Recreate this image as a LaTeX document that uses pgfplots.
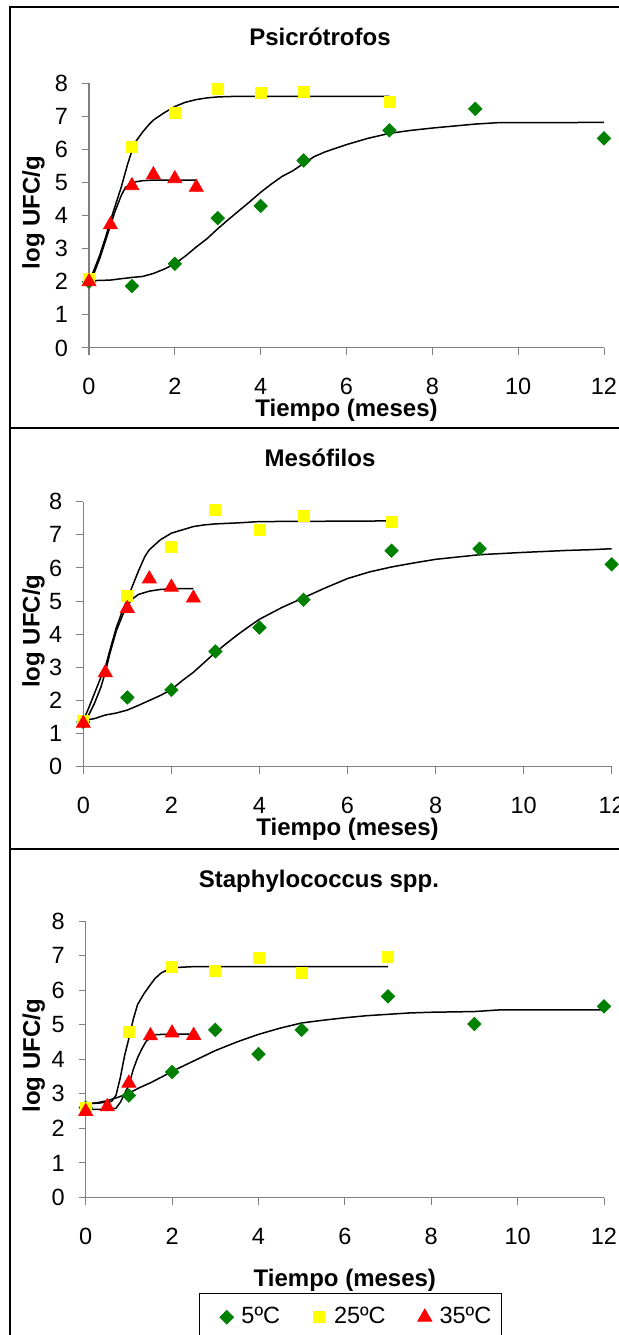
\documentclass[border=0pt]{standalone}
\usepackage{fontspec}
\setmainfont{Liberation Sans}
\usepackage{pgfplots}
\pgfplotsset{compat=1.18}
\definecolor{mgreen}{HTML}{008000}
\definecolor{myellow}{HTML}{FFFF00}
\definecolor{mred}{HTML}{FF0000}
\definecolor{axgray}{HTML}{808080}
\pgfplotsset{
  panel/.style={
    scale only axis, xmin=0, xmax=12, ymin=0, ymax=8,
    axis lines=left, axis line style={draw=axgray, line width=0.5pt, -},
    xtick={0,2,...,12}, ytick={0,...,8},
    tick align=outside, major tick length=3.5pt,
    tick style={draw=axgray, line width=0.5pt},
    /pgf/number format/assume math mode=true,
    tick label style={font=\fontsize{11.75}{13}\selectfont, inner sep=0pt, text=black},
    yticklabel style={anchor=east},
    yticklabel={\pgfmathprintnumber{\tick}\kern6.85pt},
    xticklabel style={anchor=north},
    xticklabel shift=11.5pt,
    label style={font=\fontsize{12}{14}\selectfont\bfseries},
    every axis title/.style={font=\fontsize{12}{14}\selectfont\bfseries, anchor=center},
    ylabel={log UFC/g}, xlabel={Tiempo (meses)},
    clip=false,
  },
  c5/.style={only marks, color=mgreen, mark=square*, mark size=2.35pt, mark options={rotate=45, fill=mgreen, draw=none}},
  c25/.style={only marks, color=myellow, mark=square*, mark size=2.75pt, mark options={fill=myellow, draw=none}},
  c35/.style={only marks, color=mred, mark=triangle*, mark size=4pt, mark options={fill=mred, draw=none}},
  fit/.style={black, line width=0.75pt, no marks, forget plot},
}
\begin{document}
\begin{tikzpicture}
\useasboundingbox (0,0) rectangle (309.5pt,667.5pt);
% panel frames
\draw[line width=1pt] (5pt,664pt) rectangle (330pt,453.5pt);
\draw[line width=1pt] (5pt,453.5pt) rectangle (330pt,243pt);
\draw[line width=1pt] (5pt,243pt) rectangle (330pt,-10pt);

% ---------- Panel 1: Psicrotrofos ----------
\begin{axis}[panel, at={(44.5pt,493.5pt)}, anchor=south west, width=257.5pt, height=132.5pt,
  title={Psicrótrofos}, title style={at={(axis description cs:0.4485,1.175)}},
  xlabel style={at={(axis description cs:0.5,-0.234)}, anchor=center},
  ylabel style={at={(axis description cs:-0.1076,0.511)}, anchor=center}]
\addplot[fit] coordinates {(0,2.05)(0.1,2.3)(0.25,2.8)(0.4,3.4)(0.5,3.85)(0.6,4.25)(0.75,4.85)(0.9,5.55)(1.0,5.95)(1.1,6.25)(1.25,6.52)(1.4,6.75)(1.5,6.88)(1.75,7.1)(2,7.29)(2.25,7.42)(2.5,7.5)(2.75,7.55)(3,7.58)(3.5,7.6)(7,7.6)};
\addplot[fit] coordinates {(0,2.0)(0.1,2.2)(0.25,2.7)(0.4,3.3)(0.5,3.7)(0.6,4.1)(0.75,4.6)(0.85,4.85)(1.0,4.97)(1.1,5.02)(1.25,5.05)(1.5,5.07)(2.5,5.07)};
\addplot[fit] coordinates {(0,2.03)(0.5,2.05)(0.8,2.1)(1,2.13)(1.25,2.16)(1.5,2.25)(1.75,2.38)(2,2.54)(2.25,2.78)(2.5,3.05)(2.75,3.3)(3,3.6)(3.25,3.88)(3.5,4.15)(3.75,4.42)(4,4.7)(4.25,4.95)(4.5,5.18)(4.75,5.35)(5,5.57)(5.25,5.78)(5.5,5.92)(6,6.14)(6.5,6.33)(7,6.48)(7.5,6.57)(8,6.64)(8.5,6.7)(9,6.76)(9.5,6.8)(12,6.81)};
\addplot[c5] coordinates {(0,2.0)(1,1.87)(2,2.54)(3,3.92)(4,4.29)(5,5.66)(7,6.57)(9,7.22)(12,6.33)};
\addplot[c25] coordinates {(0,2.1)(1,6.06)(2,7.09)(3,7.82)(4,7.69)(5,7.74)(7,7.44)};
\addplot[c35] coordinates {(0,2.0)(0.5,3.72)(1,4.9)(1.5,5.23)(2,5.11)(2.5,4.85)};
\end{axis}

% ---------- Panel 2: Mesofilos ----------
\begin{axis}[panel, at={(41.65pt,284.15pt)}, anchor=south west, width=264.2pt, height=132.5pt,
  title={Mesófilos}, title style={at={(axis description cs:0.448,1.165)}},
  xlabel style={at={(axis description cs:0.5,-0.235)}, anchor=center},
  ylabel style={at={(axis description cs:-0.0941,0.512)}, anchor=center}]
\addplot[fit] coordinates {(0,1.4)(0.1,1.7)(0.25,2.2)(0.4,2.7)(0.5,3.0)(0.6,3.5)(0.75,4.2)(0.9,4.75)(1.0,5.05)(1.1,5.4)(1.25,5.9)(1.4,6.35)(1.5,6.55)(1.75,6.85)(2,7.05)(2.25,7.15)(2.5,7.25)(2.75,7.3)(3,7.33)(3.5,7.36)(4,7.4)(7,7.42)};
\addplot[fit] coordinates {(0,1.3)(0.1,1.5)(0.25,1.9)(0.4,2.4)(0.5,2.85)(0.6,3.4)(0.75,4.1)(0.9,4.6)(1.0,4.85)(1.1,5.05)(1.25,5.2)(1.5,5.3)(1.75,5.35)(2,5.37)(2.5,5.38)};
\addplot[fit] coordinates {(0,1.4)(0.25,1.45)(0.5,1.56)(0.75,1.62)(1,1.71)(1.25,1.85)(1.5,2.0)(1.75,2.15)(2,2.33)(2.25,2.6)(2.5,2.85)(2.75,3.15)(3,3.45)(3.25,3.72)(3.5,3.98)(3.75,4.22)(4,4.45)(4.5,4.8)(5,5.1)(5.5,5.4)(6,5.68)(6.5,5.88)(7,6.03)(7.5,6.15)(8,6.26)(8.5,6.33)(9,6.4)(10,6.47)(11,6.53)(11.5,6.55)(12,6.58)};
\addplot[c5] coordinates {(0,1.35)(1,2.09)(2,2.32)(3,3.48)(4,4.2)(5,5.04)(7,6.52)(9,6.58)(12,6.11)};
\addplot[c25] coordinates {(0,1.38)(1,5.17)(2,6.65)(3,7.76)(4,7.15)(5,7.58)(7,7.38)};
\addplot[c35] coordinates {(0,1.31)(0.5,2.84)(1,4.78)(1.5,5.67)(2,5.42)(2.5,5.09)};
\end{axis}

% ---------- Panel 3: Staphylococcus ----------
\begin{axis}[panel, at={(42.85pt,68.75pt)}, anchor=south west, width=259.15pt, height=138.25pt,
  title={Staphylococcus spp.}, title style={at={(axis description cs:0.450,1.142)}},
  xlabel style={at={(axis description cs:0.5,-0.298)}, anchor=center},
  ylabel style={at={(axis description cs:-0.1005,0.512)}, anchor=center},
  legend columns=3,
  legend image code/.code={\path (-8.4pt,0pt) (3.5pt,0pt); \draw[#1] plot coordinates {(0pt,0pt)};},
  legend style={at={(axis description cs:0.2186,-0.3454)}, anchor=north west,
    draw=black, line width=0.5pt, inner xsep=4.95pt, inner ysep=7pt,
    font=\fontsize{11.75}{13}\selectfont,
    nodes={inner sep=0pt, anchor=west},
    /tikz/every odd column/.append style={column sep=3.65pt},
    /tikz/every even column/.append style={column sep=10.9pt}}]
\addplot[fit] coordinates {(0,2.72)(0.3,2.73)(0.6,2.78)(0.7,2.95)(0.8,3.46)(0.9,4.1)(1.0,4.6)(1.1,5.15)(1.2,5.58)(1.35,5.9)(1.5,6.16)(1.6,6.33)(1.75,6.5)(2,6.65)(2.5,6.68)(7,6.68)};
\addplot[fit] coordinates {(0,2.55)(0.5,2.55)(0.7,2.58)(0.8,2.75)(0.9,3.0)(1.0,3.26)(1.1,3.7)(1.2,4.04)(1.3,4.3)(1.4,4.52)(1.5,4.62)(1.6,4.71)(2,4.73)(2.5,4.73)};
\addplot[fit] coordinates {(0,2.7)(0.25,2.74)(0.5,2.8)(0.75,2.9)(1,3.02)(1.25,3.18)(1.5,3.32)(1.75,3.48)(2,3.65)(2.5,3.95)(3,4.25)(3.5,4.5)(4,4.72)(4.5,4.9)(5,5.05)(5.5,5.13)(6,5.2)(6.5,5.26)(7,5.3)(7.5,5.34)(8,5.36)(9,5.38)(9.6,5.43)(12,5.43)};
\addplot[c5] coordinates {(0,2.6)(1,2.95)(2,3.63)(3,4.85)(4,4.15)(5,4.85)(7,5.82)(9,5.02)(12,5.53)};
\addplot[c25] coordinates {(0,2.59)(1,4.78)(2,6.66)(3,6.55)(4,6.93)(5,6.5)(7,6.95)};
\addplot[c35] coordinates {(0,2.49)(0.5,2.63)(1,3.31)(1.5,4.68)(2,4.76)(2.5,4.69)};
\legend{5ºC, 25ºC, 35ºC}
\end{axis}
\end{tikzpicture}
\end{document}
